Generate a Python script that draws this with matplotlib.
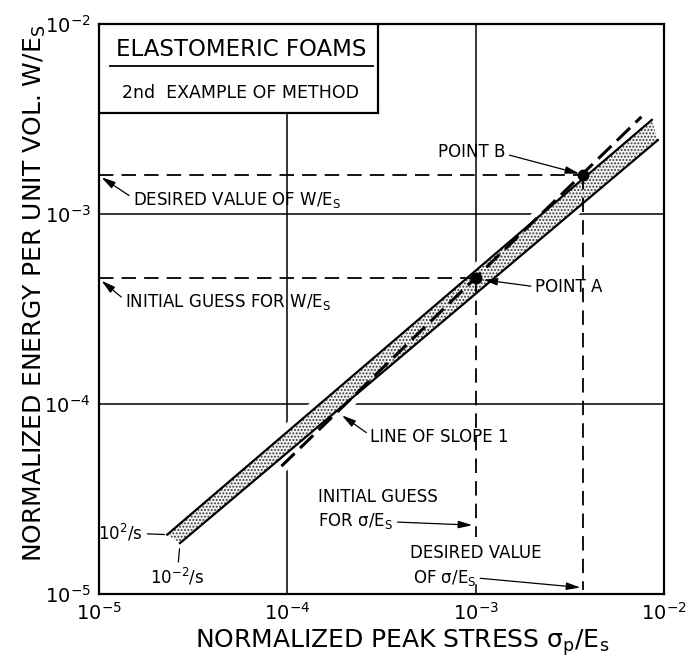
import matplotlib.pyplot as plt
from matplotlib.patches import Polygon, Rectangle
import numpy as np

plt.rcParams['font.family'] = ['DejaVu Sans']
plt.rcParams['mathtext.fontset'] = 'dejavusans'
plt.rcParams['hatch.linewidth'] = 0.9

# axis decades
DECADES = [1e-5, 1e-4, 1e-3, 1e-2]

# stippled band: upper edge (10^2/s) and lower edge (10^-2/s)
band_upper_x = [2.30e-5, 8.63e-3]
band_upper_y = [2.05e-5, 3.13e-3]
band_lower_x = [2.69e-5, 9.29e-3]
band_lower_y = [1.85e-5, 2.45e-3]

# line of slope 1
slope_x = [9.3e-5, 7.6e-3]
slope_y = [4.7e-5, 3.25e-3]

# the two points of the method
point_a = (1e-3, 4.6e-4)
point_b = (3.7e-3, 1.6e-3)

# where the corner box stops and the dashed verticals end
box_bottom_y = 3.5e-3
a_drop_end = 2.0e-5
b_drop_end = 1.05e-5

fig = plt.figure(figsize=(6.93, 6.68), dpi=100)
ax = fig.add_axes([0.143, 0.111, 0.815, 0.853])
ax.set_xscale('log')
ax.set_yscale('log')
ax.set_xlim(DECADES[0], DECADES[-1])
ax.set_ylim(DECADES[0], DECADES[-1])
ax.set_xticks(DECADES)
ax.set_yticks(DECADES)
ax.minorticks_off()
ax.tick_params(length=0, labelsize=14, pad=6)
for sp in ax.spines.values():
    sp.set_linewidth(1.6)

# grid lines, drawn by hand so they stop where the drawing stops
grid_kw = dict(color='black', lw=1.1, zorder=1)
ax.plot([DECADES[1], DECADES[1]], [DECADES[0], box_bottom_y], **grid_kw)
ax.plot([DECADES[2], DECADES[2]], [point_a[1], DECADES[3]], **grid_kw)
ax.plot([DECADES[2], DECADES[2]], [DECADES[0], 1.12e-5], **grid_kw)
ax.plot([DECADES[0], DECADES[3]], [DECADES[2], DECADES[2]], **grid_kw)
ax.plot([DECADES[0], DECADES[3]], [DECADES[1], DECADES[1]], **grid_kw)

# white gaps in the grid round the band and the slope line
mid_x = np.sqrt(np.array(band_upper_x) * np.array(band_lower_x))
mid_y = np.sqrt(np.array(band_upper_y) * np.array(band_lower_y))
ax.plot(mid_x, mid_y, color='white', lw=22, solid_capstyle='butt', zorder=2)
ax.plot(slope_x, slope_y, color='white', lw=10, solid_capstyle='butt', zorder=2)

# stippled band
corners = list(zip(band_upper_x, band_upper_y)) + list(zip(band_lower_x[::-1], band_lower_y[::-1]))
ax.add_patch(Polygon(corners, closed=True, facecolor='#f2f2f2', edgecolor='#333333',
                     hatch='.....', lw=0, zorder=3))
ax.plot(band_upper_x, band_upper_y, color='black', lw=1.6, zorder=4)
ax.plot(band_lower_x, band_lower_y, color='black', lw=1.6, zorder=4)

# line of slope 1
ax.plot(slope_x, slope_y, color='black', lw=2.2, dashes=(6, 2.5), zorder=5)

# construction lines
dash_kw = dict(color='black', lw=1.3, dashes=(8, 4.5), zorder=5)
ax.plot([DECADES[0], point_a[0]], [point_a[1], point_a[1]], **dash_kw)
ax.plot([point_a[0], point_a[0]], [point_a[1], a_drop_end], **dash_kw)
ax.plot([DECADES[0], point_b[0]], [point_b[1], point_b[1]], **dash_kw)
ax.plot([point_b[0], point_b[0]], [point_b[1], b_drop_end], **dash_kw)

ax.plot(*point_a, 'o', color='black', ms=7.5, zorder=6)
ax.plot(*point_b, 'o', color='black', ms=7.5, zorder=6)

# title box
ax.add_patch(Rectangle((0, 0.844), 0.494, 0.156, transform=ax.transAxes,
                       facecolor='white', edgecolor='black', lw=1.6, zorder=7))
ax.plot([0.019, 0.485], [0.926, 0.926], transform=ax.transAxes, color='black', lw=1.3, zorder=8)
ax.text(0.252, 0.955, 'ELASTOMERIC FOAMS', transform=ax.transAxes, fontsize=16.5,
        ha='center', va='center', zorder=8)
ax.text(0.25, 0.879, '2nd  EXAMPLE OF METHOD', transform=ax.transAxes, fontsize=12.5,
        ha='center', va='center', zorder=8)

# annotations
arr = dict(arrowstyle='-|>,head_length=0.6,head_width=0.16', color='black', lw=0.9,
           mutation_scale=14, shrinkA=1, shrinkB=0)
txt = dict(textcoords='axes fraction', fontsize=12, va='center')

ax.annotate('DESIRED VALUE OF W/E$_\\mathrm{S}$', xy=(1.03e-5, 1.56e-3), xytext=(0.06, 0.691),
            ha='left', arrowprops=dict(arr, relpos=(0, 0.6)), **txt)
ax.annotate('INITIAL GUESS FOR W/E$_\\mathrm{S}$', xy=(1.03e-5, 4.45e-4), xytext=(0.046, 0.512),
            ha='left', arrowprops=dict(arr, relpos=(0, 0.6)), **txt)
ax.annotate('POINT B', xy=(3.55e-3, 1.63e-3), xytext=(0.6, 0.775),
            ha='left', arrowprops=dict(arr, relpos=(1, 0.4)), **txt)
ax.annotate('POINT A', xy=(1.1e-3, 4.5e-4), xytext=(0.772, 0.539),
            ha='left', arrowprops=dict(arr, relpos=(0, 0.5)), **txt)
ax.annotate('LINE OF SLOPE 1', xy=(1.95e-4, 8.7e-5), xytext=(0.48, 0.275),
            ha='left', arrowprops=dict(arr, relpos=(0, 0.6)), **txt)

ax.text(0.388, 0.170, 'INITIAL GUESS', transform=ax.transAxes, fontsize=12, va='center')
ax.annotate('FOR σ/E$_\\mathrm{S}$', xy=(9.6e-4, 2.3e-5), xytext=(0.388, 0.128),
            ha='left', arrowprops=dict(arr, relpos=(1, 0.45)), **txt)
ax.text(0.55, 0.072, 'DESIRED VALUE', transform=ax.transAxes, fontsize=12, va='center')
ax.annotate('OF σ/E$_\\mathrm{S}$', xy=(3.6e-3, 1.08e-5), xytext=(0.555, 0.028),
            ha='left', arrowprops=dict(arr, relpos=(1, 0.5)), **txt)

# strain-rate labels on the band ends
ax.annotate('$10^2$/s', xy=(band_upper_x[0], band_upper_y[0]), xytext=(0.078, 0.107),
            ha='right', arrowprops=dict(arrowstyle='-', lw=0.9, shrinkA=1, shrinkB=2), **txt)
ax.annotate('$10^{-2}$/s', xy=(band_lower_x[0], band_lower_y[0]), xytext=(0.138, 0.03),
            ha='center', arrowprops=dict(arrowstyle='-', lw=0.9, shrinkA=1, shrinkB=4), **txt)

ax.set_xlabel('NORMALIZED PEAK STRESS σ$_\\mathrm{p}$/E$_\\mathrm{s}$', fontsize=18)
ax.set_ylabel('NORMALIZED ENERGY PER UNIT VOL. W/E$_\\mathrm{S}$', fontsize=18)
ax.xaxis.set_label_coords(0.536, -0.058)
ax.yaxis.set_label_coords(-0.09, 0.527)

fig.savefig('out.png', dpi=100)
